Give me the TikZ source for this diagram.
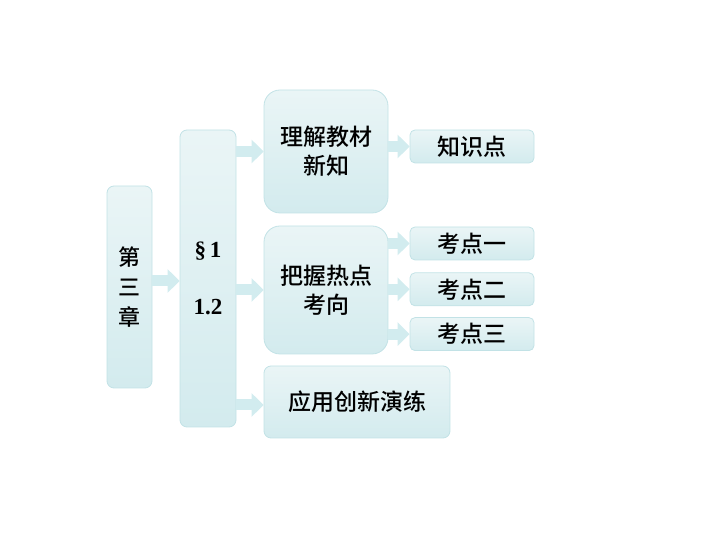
\documentclass[tikz,border=0pt]{standalone}
\usepackage{fontspec}
\setmainfont{Liberation Serif}
\newfontfamily\cjk{Noto Sans CJK SC Medium}
\usetikzlibrary{positioning, arrows.meta}

\definecolor{boxtop}{HTML}{EAF5F6}
\definecolor{boxbot}{HTML}{D3EBEE}
\definecolor{boxline}{HTML}{C2E2E6}
\definecolor{arrowfill}{HTML}{D2ECEF}

\begin{document}
\begin{tikzpicture}[x=1pt,y=1pt,
    box/.style={draw=boxline, line width=0.8pt, top color=boxtop, bottom color=boxbot,
      rounded corners=7pt, inner sep=0pt, align=center,
      font=\cjk\fontsize{23}{29}\selectfont},
    bigbox/.style={box, minimum width=124pt, rounded corners=16pt},
    smallbox/.style={box, minimum width=124pt, minimum height=33pt, rounded corners=5pt},
    fat/.style={draw=arrowfill, line width=11pt, -{Triangle[length=12pt, width=23pt]}}]
  \useasboundingbox (0,0) rectangle (720,540);

  \node[box, minimum width=45pt, minimum height=202pt,
    font=\cjk\fontsize{22}{30}\selectfont] (ch) at (129.5,253) {第\\三\\章};
  \node[box, minimum width=56pt, minimum height=297pt,
    font=\bfseries\fontsize{23}{57}\selectfont] (sec) at (208,261.5) {\S\,1\\1.2};

  \node[bigbox, minimum height=123pt] (learn) at (326,388.5) {理解教材\\新知};
  \node[bigbox, minimum height=128pt] (hot) at (326,250) {把握热点\\考向};
  \node[box, minimum width=186pt, minimum height=72pt] (app) at (357,138) {应用创新演练};

  \node[smallbox] (know) at (472,393.5) {知识点};
  \node[smallbox] (k1) at (472,296.5) {考点一};
  \node[smallbox, below=12pt of k1] (k2) {考点二};
  \node[smallbox, below=11pt of k2] (k3) {考点三};

  % fat arrows
  \draw[fat] (ch.east |- 0,259) -- (sec.west |- 0,259);
  \draw[fat] (sec.east |- learn) -- (learn.west);
  \draw[fat] (sec.east |- hot) -- (hot.west);
  \draw[fat] (sec.east |- 0,135) -- (app.west |- 0,135);
  \draw[fat] (learn.east |- know) -- (know.west);
  \draw[fat] (hot.east |- k1) -- (k1.west);
  \draw[fat] (hot.east |- k2) -- (k2.west);
  \draw[fat] (hot.east |- k3) -- (k3.west);
\end{tikzpicture}
\end{document}
